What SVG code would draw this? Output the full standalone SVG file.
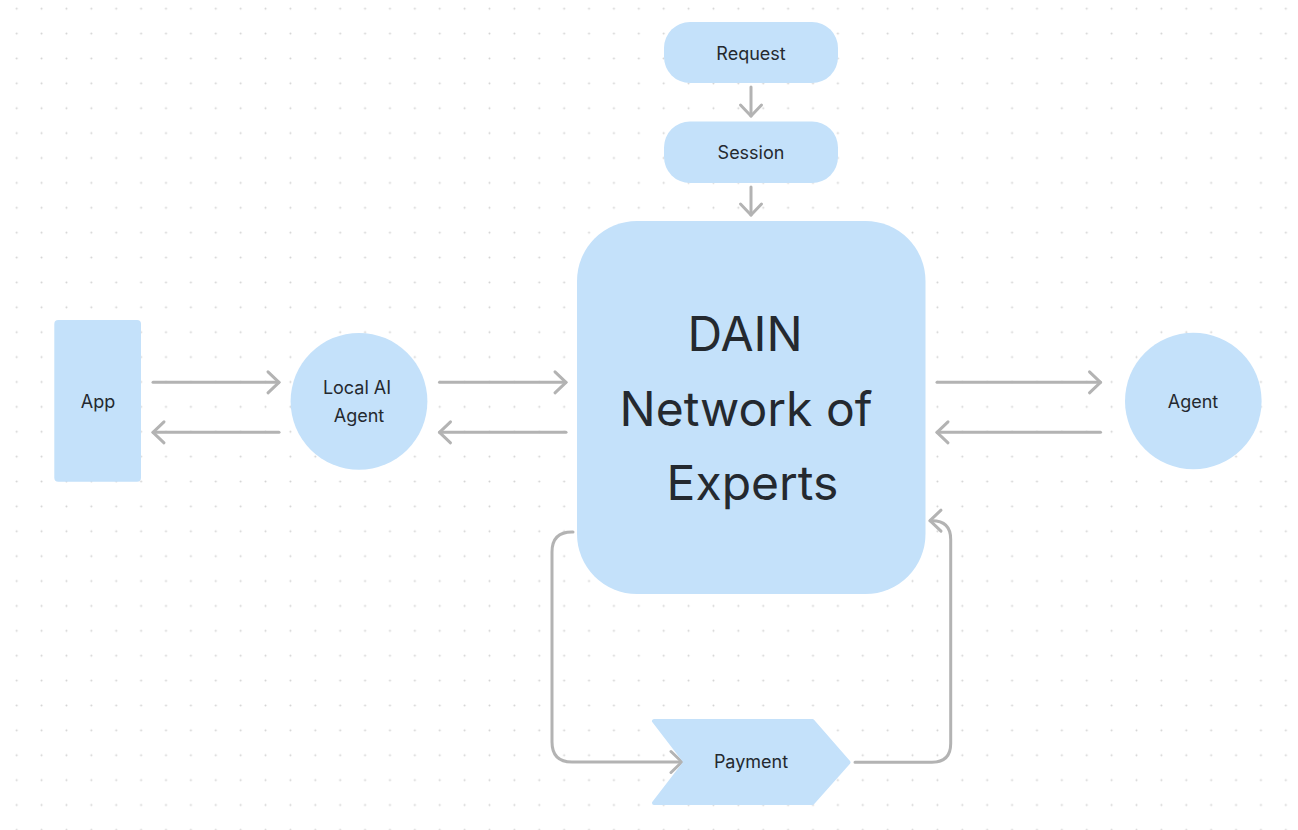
<svg xmlns="http://www.w3.org/2000/svg" width="1298" height="830" viewBox="0 0 1298 830">
  <style>
    .node { fill: #c4e1fa; }
    .lbl { font-family: Inter, "Liberation Sans", sans-serif; font-size: 18px; fill: #24292f; text-anchor: middle; }
    .big { font-family: Inter, "Liberation Sans", sans-serif; font-size: 48px; fill: #24292f; text-anchor: middle; }
    .edge { fill: none; stroke: #b3b3b3; stroke-width: 3; stroke-linecap: round; stroke-linejoin: round; marker-end: url(#arrow); }
  </style>
  <defs>
    <pattern id="dots" x="4.25" y="-3.75" width="24.885" height="24.885" patternUnits="userSpaceOnUse">
      <circle cx="12.44" cy="12.44" r="1" fill="#d2d2d2"/>
    </pattern>
    <marker id="arrow" markerUnits="userSpaceOnUse" orient="auto" overflow="visible" markerWidth="24" markerHeight="24" refX="0" refY="0">
      <path d="M-11,-10.5 L0,0 L-11,10.5" fill="none" stroke="#b3b3b3" stroke-width="3" stroke-linecap="round" stroke-linejoin="round"/>
    </marker>
  </defs>
  <rect width="1298" height="830" fill="#ffffff"/>
  <rect width="1298" height="830" fill="url(#dots)"/>

  <g id="connectors">
    <path class="edge" d="M751,87 L751,116"/>
    <path class="edge" d="M751,187 L751,215"/>
    <path class="edge" d="M153,382.3 L279,382.3"/>
    <path class="edge" d="M279,432.3 L153,432.3"/>
    <path class="edge" d="M439.5,382.3 L566,382.3"/>
    <path class="edge" d="M566,432.3 L439.5,432.3"/>
    <path class="edge" d="M937,382.3 L1100.5,382.3"/>
    <path class="edge" d="M1100.5,432.3 L937,432.3"/>
    <path class="edge" d="M573,532 L572,532 Q552,532 552,552 L552,742 Q552,762 572,762 L682,762"/>
    <path class="edge" d="M855,762.3 L932,762.3 Q950.7,762.3 950.7,743.6 L950.7,539.4 Q950.7,520.7 932,520.7 L930,520.7"/>
  </g>

  <g id="request">
    <rect class="node" x="664" y="22" width="174" height="61" rx="26"/>
    <text class="lbl" x="751" y="59.5">Request</text>
  </g>
  <g id="session">
    <rect class="node" x="664" y="121.5" width="174" height="61.5" rx="26"/>
    <text class="lbl" x="751" y="158.5">Session</text>
  </g>
  <g id="dain">
    <rect class="node" x="577" y="221" width="348.5" height="373" rx="60"/>
    <text class="big" x="745" y="351">DAIN</text>
    <text class="big" x="746" y="425.5">Network of</text>
    <text class="big" x="752.5" y="500">Experts</text>
  </g>
  <g id="app">
    <rect class="node" x="54.3" y="320" width="86.7" height="161.7" rx="4"/>
    <text class="lbl" x="98" y="408">App</text>
  </g>
  <g id="local-ai-agent">
    <circle class="node" cx="359" cy="401.3" r="68.4"/>
    <text class="lbl" x="357" y="394">Local AI</text>
    <text class="lbl" x="359" y="421.7">Agent</text>
  </g>
  <g id="agent">
    <circle class="node" cx="1193.3" cy="401" r="68.3"/>
    <text class="lbl" x="1193" y="407.7">Agent</text>
  </g>
  <g id="payment">
    <polygon class="node" points="654,721 812.5,721 848.5,762.3 812.5,803 654,803 685.5,762" stroke="#c4e1fa" stroke-width="4" stroke-linejoin="round"/>
    <text class="lbl" x="751" y="768">Payment</text>
  </g>
</svg>
